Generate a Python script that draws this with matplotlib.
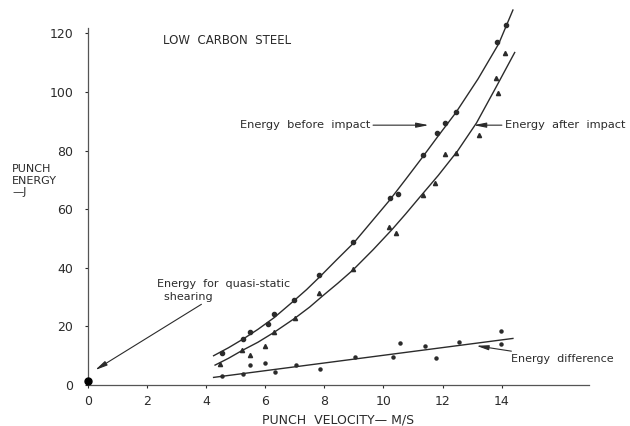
import matplotlib
matplotlib.use('Agg')
from matplotlib import pyplot as plt

# punch velocity (m/s) / energy (J) readings
v_before = [4.52, 5.25, 5.48, 6.10, 6.29, 6.98, 7.82, 8.97, 10.21, 10.50, 11.32, 11.81, 12.07, 12.45, 13.84, 14.14]
e_before = [10.8, 15.7, 18.0, 20.7, 24.1, 29.0, 37.5, 48.7, 63.9, 65.1, 78.5, 85.9, 89.3, 93.1, 117.2, 122.9]

v_after = [4.46, 5.20, 5.48, 5.99, 6.29, 7.00, 7.82, 8.97, 10.20, 10.44, 11.32, 11.73, 12.07, 12.47, 13.23, 13.80, 13.88, 14.10]
e_after = [7.2, 11.9, 10.2, 13.3, 18.0, 22.8, 31.5, 39.5, 54.0, 51.8, 64.8, 68.8, 78.8, 79.1, 85.3, 104.7, 99.6, 113.2]

v_diff = [4.52, 5.25, 5.48, 5.99, 6.32, 7.03, 7.85, 9.03, 10.33, 10.55, 11.40, 11.79, 12.56, 13.99, 13.99]
e_diff = [3.1, 3.75, 6.8, 7.6, 4.5, 6.8, 5.4, 9.4, 9.7, 14.4, 13.3, 9.1, 14.8, 18.5, 14.0]

# hand drawn mean curves
curve_before_v = [4.25, 4.75, 5.25, 5.75, 6.30, 6.95, 7.40, 7.85, 8.40, 9.00, 9.60, 10.20, 10.75, 11.30, 11.85, 12.45, 13.20, 13.90, 14.38]
curve_before_e = [10.0, 12.7, 15.7, 19.0, 23.0, 28.6, 32.6, 37.0, 42.6, 48.6, 55.8, 63.0, 70.2, 77.5, 85.0, 93.0, 104.5, 116.5, 128.0]
curve_after_v = [4.30, 4.75, 5.20, 5.75, 6.30, 7.00, 7.50, 7.95, 8.45, 8.97, 9.65, 10.30, 10.75, 11.20, 11.85, 12.50, 13.15, 13.80, 14.44]
curve_after_e = [6.8, 9.1, 11.7, 14.6, 18.0, 22.8, 26.6, 30.5, 34.7, 39.3, 46.2, 53.2, 58.4, 63.8, 71.5, 79.8, 89.5, 101.5, 113.5]
curve_diff_v = [4.25, 14.38]
curve_diff_e = [2.6, 15.9]

quasi_v = [0.0]
quasi_e = [1.5]

xticks = [0, 2, 4, 6, 8, 10, 12, 14]
yticks = [0, 20, 40, 60, 80, 100, 120]

ink = '#2b2b2b'
plt.rcParams['font.family'] = ['DejaVu Sans']

fig = plt.figure(figsize=(6.3, 4.26), dpi=100)
ax = fig.add_axes([0.1397, 0.0962, 0.795, 0.839])

ax.plot(curve_before_v, curve_before_e, color=ink, lw=1.0, clip_on=False)
ax.plot(curve_after_v, curve_after_e, color=ink, lw=1.0, clip_on=False)
ax.plot(curve_diff_v, curve_diff_e, color=ink, lw=1.0)

ax.plot(v_before, e_before, 'o', color=ink, ms=3.0, ls='none', clip_on=False)
ax.plot(v_after, e_after, '^', color=ink, ms=3.0, ls='none', clip_on=False)
ax.plot(v_diff, e_diff, 'o', color=ink, ms=2.2, ls='none')
ax.plot(quasi_v, quasi_e, 'o', color='black', ms=5, ls='none', clip_on=False, zorder=5)

ax.set_xlim(0, 16.95)
ax.set_ylim(0, 122)
ax.set_xticks(xticks)
ax.set_yticks(yticks)
ax.tick_params(direction='out', length=2.5, width=0.8, colors=ink, labelsize=9)
ax.tick_params(axis='y', pad=8)
ax.tick_params(axis='x', pad=5)
for s in ['top', 'right']:
    ax.spines[s].set_visible(False)
for s in ['left', 'bottom']:
    ax.spines[s].set_color('#555555')
    ax.spines[s].set_linewidth(0.9)

ax.set_xlabel('PUNCH  VELOCITY\u2014 M/S', fontsize=9, color=ink, labelpad=4)
fig.text(12 / 630, 1 - 164 / 426, 'PUNCH\nENERGY\n\u2014J', fontsize=8, color=ink,
         va='top', ha='left', linespacing=1.2)

ax.text(2.54, 117.5, 'LOW  CARBON  STEEL', fontsize=8.5, color=ink, va='center')

arrow = dict(arrowstyle='-|>,head_length=0.9,head_width=0.18', color=ink, lw=0.8,
             shrinkA=0, shrinkB=0)
ax.annotate('Energy  before  impact', xy=(11.53, 88.7), xytext=(5.14, 88.7),
            fontsize=8.2, color=ink, va='center', arrowprops=arrow)
ax.annotate('Energy  after  impact', xy=(13.05, 88.7), xytext=(14.1, 88.7),
            fontsize=8.2, color=ink, va='center', arrowprops=arrow, annotation_clip=False)
ax.annotate('Energy  for  quasi-static\n  shearing', xy=(0.24, 5.1), xytext=(2.35, 28.5),
            fontsize=8, color=ink, va='bottom', ha='left', linespacing=1.3,
            arrowprops=arrow)
ax.annotate('Energy  difference', xy=(13.14, 13.4), xytext=(14.3, 8.9),
            fontsize=8, color=ink, va='center', ha='left', arrowprops=arrow)

fig.savefig('out.png', dpi=100)
